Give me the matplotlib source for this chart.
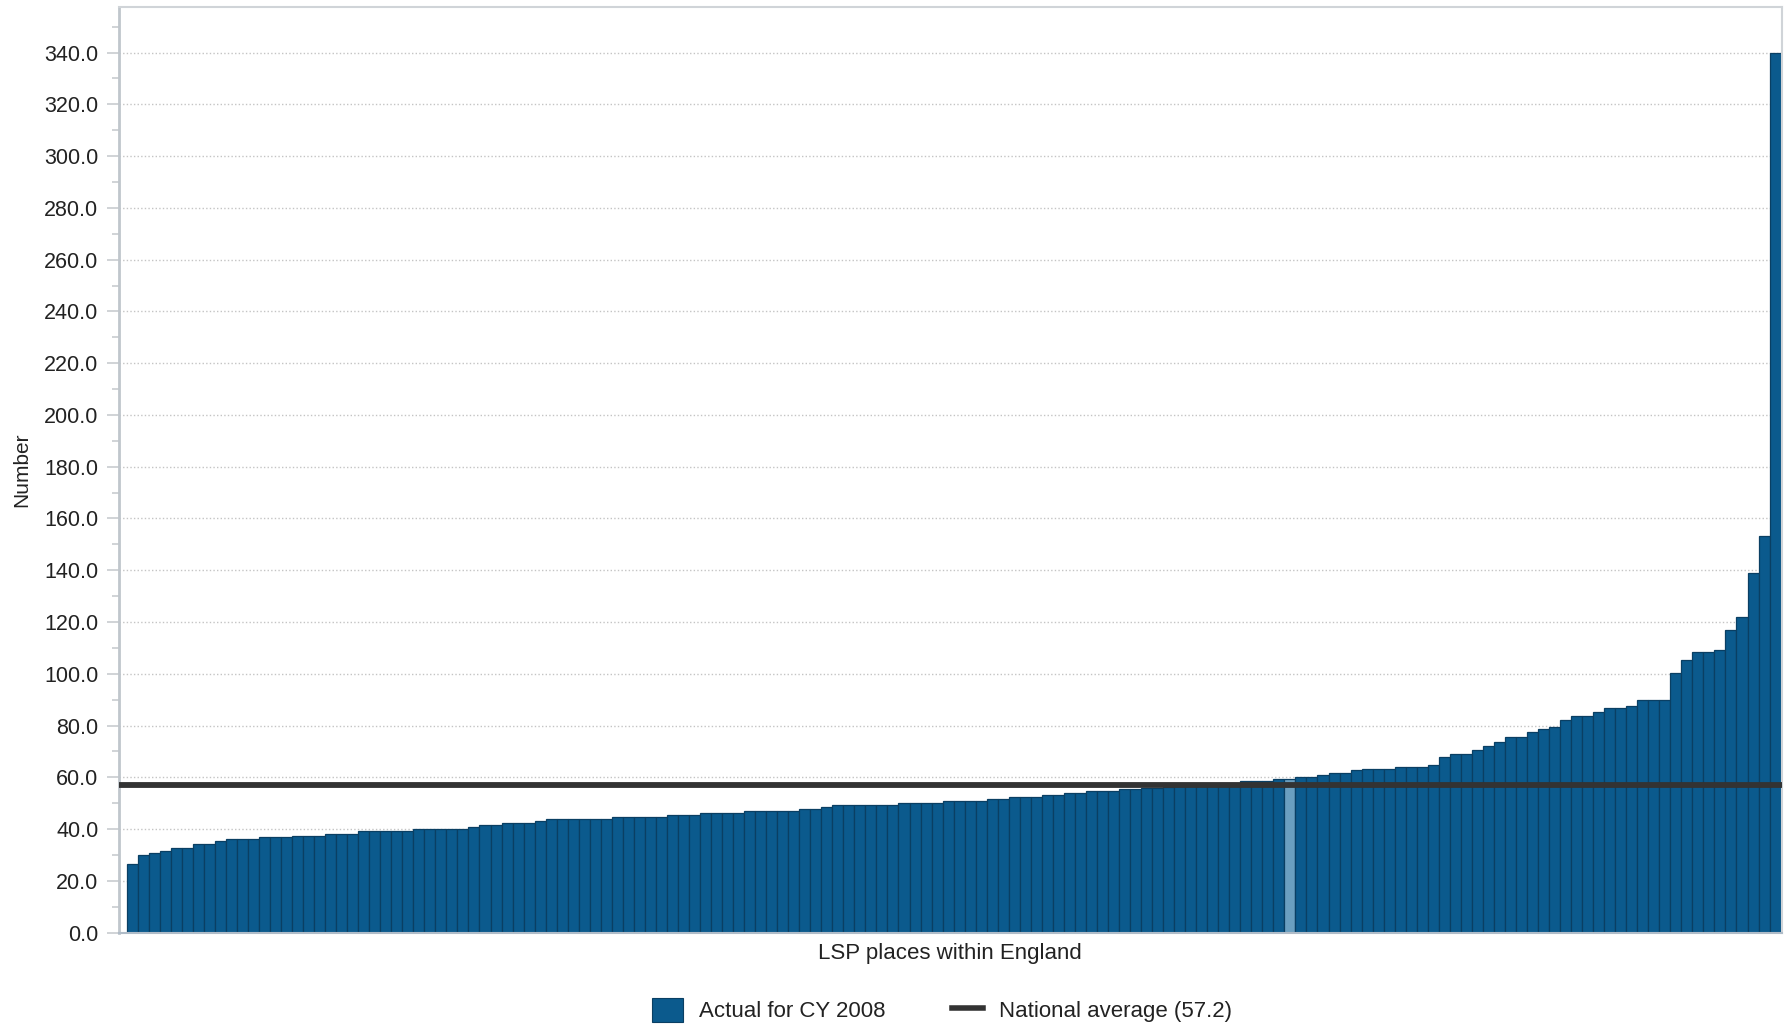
import matplotlib
matplotlib.use("Agg")
import matplotlib.pyplot as plt
import numpy as np
from matplotlib.lines import Line2D
from matplotlib.patches import Patch
from matplotlib.ticker import MultipleLocator, FormatStrFormatter

# ---- data (sorted values for each LSP place) ----
values = [
    26.7, 29.9, 30.6, 31.5, 32.9, 32.9, 34.3, 34.3, 35.4, 36.1,
    36.1, 36.1, 36.8, 36.8, 36.8, 37.5, 37.5, 37.5, 38.3, 38.3,
    38.3, 39.2, 39.2, 39.2, 39.2, 39.2, 39.9, 39.9, 39.9, 39.9,
    39.9, 40.8, 41.5, 41.5, 42.2, 42.2, 42.2, 43.1, 43.9, 43.9,
    43.9, 43.9, 43.9, 43.9, 44.6, 44.6, 44.6, 44.6, 44.6, 45.3,
    45.3, 45.3, 46.1, 46.1, 46.1, 46.1, 47.0, 47.0, 47.0, 47.0,
    47.0, 47.7, 47.7, 48.6, 49.3, 49.3, 49.3, 49.3, 49.3, 49.3,
    50.2, 50.2, 50.2, 50.2, 51.0, 51.0, 51.0, 51.0, 51.6, 51.6,
    52.5, 52.5, 52.5, 53.2, 53.2, 54.1, 54.1, 54.8, 54.8, 54.8,
    55.5, 55.5, 56.0, 56.0, 56.4, 56.8, 57.0, 57.3, 57.6, 57.8,
    58.0, 58.6, 58.6, 58.6, 59.4, 59.4, 60.0, 60.0, 60.9, 61.8,
    61.8, 62.7, 63.3, 63.3, 63.3, 64.0, 64.0, 64.0, 64.7, 67.9,
    69.2, 69.2, 70.7, 72.3, 73.8, 75.5, 75.5, 77.7, 78.5, 79.4,
    82.3, 83.9, 83.9, 85.4, 86.8, 86.8, 87.7, 90.0, 90.0, 90.0,
    100.2, 105.5, 108.6, 108.6, 109.3, 117.0, 121.8, 138.8, 153.3, 340.0,
]
highlight_index = 105
national_average = 57.2
series_label = "Actual for CY 2008"
average_label = "National average (57.2)"
x_label = "LSP places within England"
y_label = "Number"

# ---- styling ----
bar_color = "#0b5a8d"
bar_edge = "#0a3f63"
highlight_color = "#6a9fc0"
avg_color = "#333333"
text_color = "#222222"

plt.rcParams["font.family"] = ["Liberation Sans", "DejaVu Sans"]

W, H = 1788, 1024
fig = plt.figure(figsize=(W / 100, H / 100), dpi=100)
left, right, top, bottom = 118.6, 1781.7, 6.7, 932.7
ax = fig.add_axes([left / W, 1 - bottom / H, (right - left) / W, (bottom - top) / H])

x = np.arange(len(values))
colors = [highlight_color if i == highlight_index else bar_color for i in x]
ax.bar(x, values, width=1.0, color=colors, edgecolor=bar_edge, linewidth=0.9, zorder=2)
ax.axhline(national_average, color=avg_color, lw=4.2, zorder=3)

ax.set_xlim(-1.23, len(values) - 0.4)
ax.set_ylim(0, 357.7)
ax.yaxis.set_major_locator(MultipleLocator(20))
ax.yaxis.set_minor_locator(MultipleLocator(10))
ax.yaxis.set_major_formatter(FormatStrFormatter("%.1f"))
ax.set_xticks([])

ax.grid(axis="y", which="major", color="#c4c4c4", linestyle=(0, (1, 1.6)), lw=1.0)
ax.set_axisbelow(True)

ax.tick_params(axis="y", which="major", length=8.6, width=1.2, color="#c8ccd0",
               labelsize=15.5, labelcolor=text_color, pad=6)
ax.tick_params(axis="y", which="minor", length=5, width=1.2, color="#c8ccd0")

ax.spines["left"].set_color("#c0c6cc")
ax.spines["left"].set_linewidth(2.0)
for s in ("top", "right"):
    ax.spines[s].set_color("#d0d4d8")
    ax.spines[s].set_linewidth(1.5)
ax.spines["bottom"].set_color("#b0bcc8")
ax.spines["bottom"].set_linewidth(1.5)

ax.set_xlabel(x_label, fontsize=16, color=text_color, labelpad=7.5)
ax.set_ylabel(y_label, fontsize=15, color=text_color)
ax.yaxis.set_label_coords((31 - left) / (right - left), 0.5)

handles = [
    Patch(facecolor=bar_color, edgecolor=bar_edge, linewidth=0.8),
    Line2D([0], [0], color=avg_color, lw=4),
]
fig.legend(handles, [series_label, average_label], loc="center",
           bbox_to_anchor=(942 / W, 1 - 1010 / H), ncol=2, frameon=False,
           fontsize=16, labelcolor=text_color, handlelength=1.4, handleheight=1.3,
           handletextpad=0.7, columnspacing=3.0)

fig.savefig("out.png", dpi=100)
